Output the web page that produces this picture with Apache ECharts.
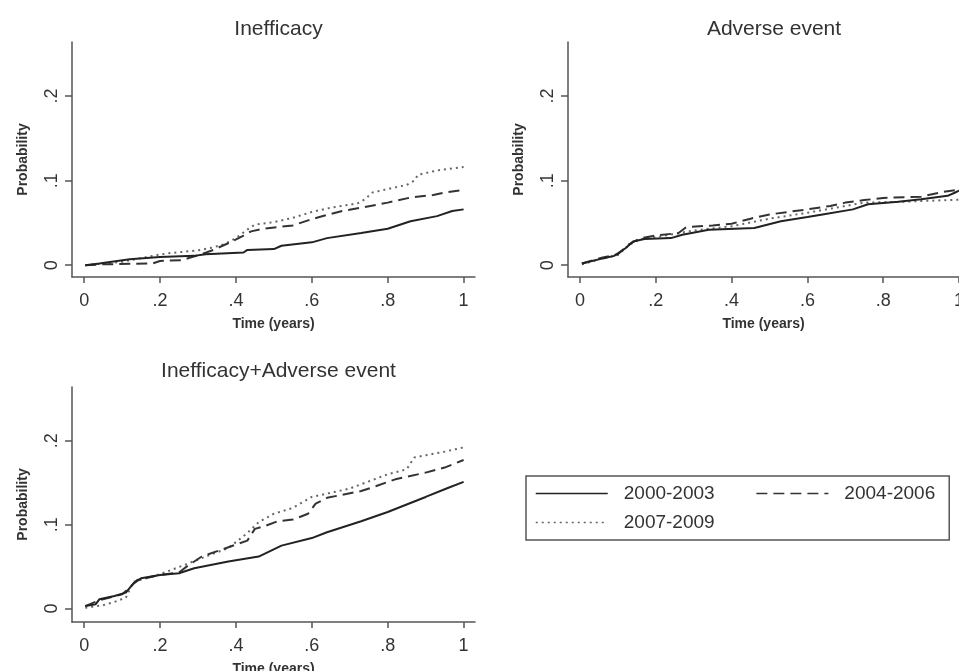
<!DOCTYPE html>
<html>
<head>
<meta charset="utf-8">
<script src="https://cdn.jsdelivr.net/npm/echarts@6/dist/echarts.min.js"></script>
<style>
html,body{margin:0;padding:0;background:#fff;}
#chart{width:959px;height:671px;}
</style>
</head>
<body>
<div id="chart"></div>
<script>
// ---------- tick labels ----------
const xTicks = [0, 0.2, 0.4, 0.6, 0.8, 1];
const xTickLabels = ['0', '.2', '.4', '.6', '.8', '1'];
const yTicks = [0, 0.1, 0.2];
const yTickLabels = ['0', '.1', '.2'];

const seriesNames = ['2000-2003', '2004-2006', '2007-2009'];
const panelTitles = ['Inefficacy', 'Adverse event', 'Inefficacy+Adverse event'];

// ---------- data: [time (years), cumulative probability] ----------
const ineff_2000_2003 = [[0.003,0],[0.04,0.002],[0.12,0.007],[0.2,0.0097],[0.29,0.011],[0.32,0.013],[0.42,0.015],[0.43,0.018],[0.5,0.019],[0.52,0.023],[0.6,0.027],[0.64,0.032],[0.73,0.038],[0.8,0.043],[0.86,0.052],[0.93,0.058],[0.97,0.064],[1.0,0.066]];
const ineff_2004_2006 = [[0.003,0],[0.05,0.001],[0.18,0.002],[0.2,0.005],[0.26,0.006],[0.28,0.009],[0.31,0.013],[0.34,0.018],[0.39,0.028],[0.42,0.035],[0.44,0.04],[0.47,0.043],[0.55,0.047],[0.59,0.053],[0.62,0.057],[0.68,0.064],[0.73,0.068],[0.8,0.074],[0.86,0.08],[0.92,0.083],[0.95,0.086],[1.0,0.089]];
const ineff_2007_2009 = [[0.003,0],[0.1,0.004],[0.18,0.011],[0.22,0.014],[0.3,0.0175],[0.34,0.021],[0.37,0.025],[0.4,0.032],[0.43,0.042],[0.45,0.048],[0.5,0.051],[0.55,0.056],[0.6,0.063],[0.65,0.068],[0.72,0.073],[0.74,0.078],[0.76,0.086],[0.82,0.092],[0.85,0.095],[0.87,0.1],[0.88,0.107],[0.93,0.112],[1.0,0.116]];

const adv_2000_2003 = [[0.005,0.002],[0.06,0.008],[0.09,0.011],[0.12,0.02],[0.14,0.028],[0.17,0.031],[0.24,0.032],[0.27,0.036],[0.34,0.042],[0.46,0.044],[0.53,0.052],[0.6,0.057],[0.64,0.06],[0.72,0.066],[0.76,0.072],[0.84,0.075],[0.9,0.078],[0.97,0.082],[0.99,0.086],[1.0,0.088]];
const adv_2004_2006 = [[0.005,0.002],[0.06,0.009],[0.1,0.013],[0.13,0.025],[0.16,0.032],[0.2,0.035],[0.26,0.038],[0.28,0.045],[0.35,0.047],[0.4,0.049],[0.45,0.055],[0.5,0.06],[0.55,0.063],[0.6,0.066],[0.66,0.07],[0.7,0.074],[0.75,0.077],[0.8,0.0795],[0.9,0.081],[0.95,0.086],[1.0,0.0895]];
const adv_2007_2009 = [[0.005,0.001],[0.06,0.008],[0.1,0.012],[0.13,0.024],[0.16,0.031],[0.2,0.033],[0.3,0.041],[0.4,0.046],[0.5,0.055],[0.6,0.062],[0.7,0.07],[0.75,0.074],[0.85,0.075],[1.0,0.0775]];

const comb_2000_2003 = [[0.003,0.003],[0.03,0.005],[0.04,0.011],[0.08,0.015],[0.11,0.019],[0.13,0.03],[0.15,0.036],[0.2,0.04],[0.25,0.042],[0.29,0.048],[0.38,0.056],[0.46,0.062],[0.52,0.075],[0.6,0.084],[0.64,0.091],[0.73,0.104],[0.8,0.115],[0.9,0.133],[0.96,0.144],[1.0,0.151]];
const comb_2004_2006 = [[0.003,0.003],[0.04,0.01],[0.1,0.017],[0.12,0.025],[0.14,0.034],[0.2,0.04],[0.25,0.043],[0.27,0.05],[0.31,0.062],[0.38,0.073],[0.43,0.081],[0.45,0.095],[0.48,0.099],[0.51,0.104],[0.55,0.106],[0.59,0.113],[0.61,0.125],[0.64,0.132],[0.73,0.14],[0.77,0.146],[0.82,0.154],[0.9,0.162],[0.95,0.168],[1.0,0.177]];
const comb_2007_2009 = [[0.003,0.001],[0.05,0.004],[0.08,0.008],[0.11,0.013],[0.13,0.032],[0.17,0.037],[0.2,0.041],[0.27,0.053],[0.32,0.062],[0.38,0.072],[0.43,0.09],[0.46,0.103],[0.5,0.113],[0.55,0.12],[0.6,0.133],[0.7,0.143],[0.8,0.16],[0.85,0.166],[0.87,0.18],[0.95,0.187],[1.0,0.192]];

const panelData = [
  [ineff_2000_2003, ineff_2004_2006, ineff_2007_2009],
  [adv_2000_2003, adv_2004_2006, adv_2007_2009],
  [comb_2000_2003, comb_2004_2006, comb_2007_2009]
];

// ---------- layout / style ----------
const FONT = '"Liberation Sans", Arial, sans-serif';
const TXT = '#333';
const AX = '#555';
const grids = [
  {left: 72, top: 42, width: 403, height: 235, xMin: -0.032, xMax: 1.03, yMin: -0.014, titleTop: 14},
  {left: 568, top: 42, width: 391, height: 235, xMin: -0.0317, xMax: 1.0, yMin: -0.014, titleTop: 14},
  {left: 72, top: 387, width: 403, height: 235, xMin: -0.032, xMax: 1.03, yMin: -0.016, titleTop: 356}
];
const lineStyles = [
  {color: '#222', width: 2, type: 'solid'},
  {color: '#333', width: 2, type: [11, 6]},
  {color: '#666', width: 2, type: [2, 4]}
];

function fmt(ticks, labels) {
  return function (v) {
    const i = ticks.findIndex(t => Math.abs(t - v) < 1e-9);
    return i >= 0 ? labels[i] : '';
  };
}

const option = {
  animation: false,
  backgroundColor: '#fff',
  textStyle: {fontFamily: FONT},
  title: grids.map((g, i) => ({
    text: panelTitles[i],
    left: i === 1 ? 769 : g.left + g.width / 2,
    top: g.titleTop,
    textAlign: 'center',
    textStyle: {fontSize: 21, fontWeight: 'normal', color: TXT, fontFamily: FONT}
  })),
  grid: grids.map(g => ({left: g.left, top: g.top, width: g.width, height: g.height, containLabel: false, outerBoundsMode: 'none'})),
  xAxis: grids.map((g, i) => ({
    type: 'value', gridIndex: i, min: g.xMin, max: g.xMax,
    name: 'Time (years)', nameLocation: 'middle', nameGap: 40,
    nameTextStyle: {fontSize: 14, fontWeight: 'bold', color: TXT, fontFamily: FONT},
    axisLine: {show: true, onZero: false, lineStyle: {color: AX, width: 1.5}},
    axisTick: {show: true, length: 6, customValues: xTicks, lineStyle: {color: AX, width: 1.5}},
    axisLabel: {customValues: xTicks, formatter: fmt(xTicks, xTickLabels), fontSize: 18, color: TXT, margin: 15, fontFamily: FONT, showMaxLabel: true},
    splitLine: {show: false}
  })),
  yAxis: grids.map((g, i) => ({
    type: 'value', gridIndex: i, min: g.yMin, max: 0.264,
    name: 'Probability', nameLocation: 'middle', nameGap: 42,
    nameTextStyle: {fontSize: 14, fontWeight: 'bold', color: TXT, fontFamily: FONT},
    axisLine: {show: true, onZero: false, lineStyle: {color: AX, width: 1.5}},
    axisTick: {show: true, length: 7, customValues: yTicks, lineStyle: {color: AX, width: 1.5}},
    axisLabel: {customValues: yTicks, formatter: fmt(yTicks, yTickLabels), rotate: 90, fontSize: 18, color: TXT, margin: 11, fontFamily: FONT},
    splitLine: {show: false}
  })),
  legend: [
    {
      data: [seriesNames[0], seriesNames[1]],
      orient: 'horizontal', left: 526, top: 476,
      padding: [8, 14, 37, 9],
      borderColor: '#555', borderWidth: 1.5,
      itemWidth: 72, itemHeight: 14, itemGap: 41,
      itemStyle: {opacity: 0},
      lineStyle: {width: 1.5},
      textStyle: {fontSize: 19, color: TXT, fontFamily: FONT, padding: [0, 0, 0, 11]}
    },
    {
      data: [seriesNames[2]],
      orient: 'horizontal', left: 535, top: 513,
      padding: 0,
      itemWidth: 72, itemHeight: 14,
      itemStyle: {opacity: 0},
      lineStyle: {width: 1.5},
      textStyle: {fontSize: 19, color: TXT, fontFamily: FONT, padding: [0, 0, 0, 11]}
    }
  ],
  series: []
};

panelData.forEach((sets, gi) => {
  sets.forEach((d, si) => {
    option.series.push({
      type: 'line',
      name: seriesNames[si],
      xAxisIndex: gi, yAxisIndex: gi,
      data: d,
      showSymbol: false, symbol: 'none',
      lineStyle: lineStyles[si],
      itemStyle: {color: lineStyles[si].color},
      color: lineStyles[si].color,
      z: 3 - si
    });
  });
});

const chart = echarts.init(document.getElementById('chart'), null, {renderer: 'canvas'});
chart.setOption(option);
</script>
</body>
</html>
